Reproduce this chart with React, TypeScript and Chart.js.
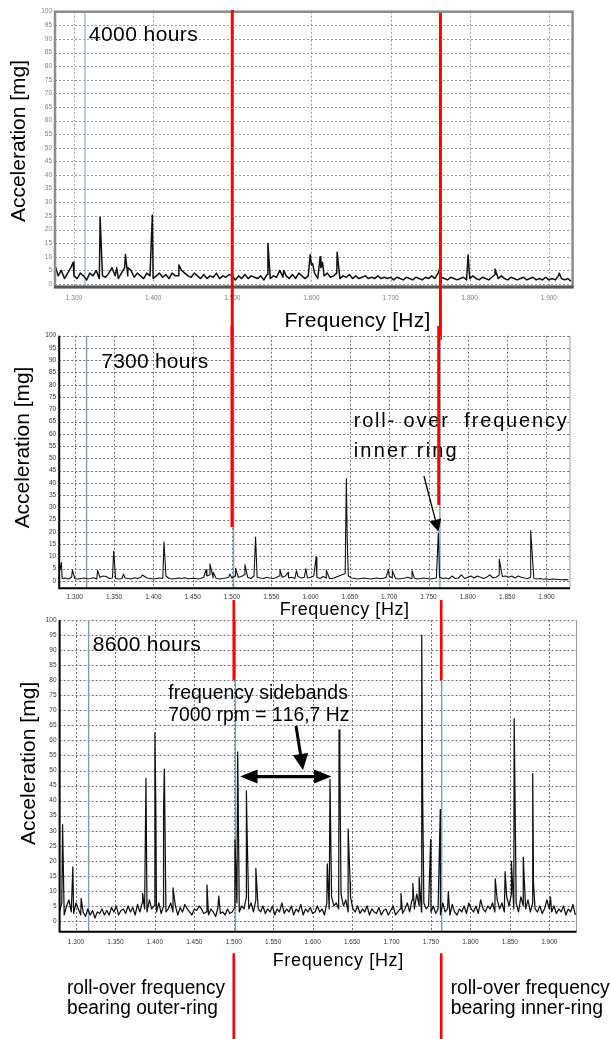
import React, { useEffect, useRef } from 'react';
import { Chart, registerables } from 'chart.js';

Chart.register(...registerables);

const FONT = '"Liberation Sans", Arial, Helvetica, sans-serif';

// ---------- DATA ----------
// Panel 1: 4000 hours (noise floor sampled every 4 Hz from 1276 Hz)
const noise1Start = 1276;
const noise1Step = 4;
const noise1 = [
  7, 3, 5, 2, 4, 6,
  3, 2, 4, 3, 1.5, 4, 3, 5,
  2, 3, 2.5, 4, 6, 3, 2, 4,
  6, 3, 5, 2.5, 4, 3, 2, 4, 3,
  2, 3, 4, 2.5, 3.5, 2, 4, 3,
  3, 5, 4, 3, 2.5, 4, 3, 2,
  3.5, 2, 3, 2.5, 4, 2, 3, 2.5, 3.5,
  3, 1.5, 3, 2, 3.5, 2, 3, 2.5,
  2, 3, 1.5, 3.5, 2, 3, 2.5, 5,
  2.5, 3, 2, 3.5, 2, 4, 3, 2,
  3, 7, 4, 2, 6, 3, 4, 2.5,
  3, 4, 2, 3, 2.5, 3.5, 2, 3,
  2, 2.5, 3, 2, 2.5, 2, 3, 2,
  2.5, 2, 2.5, 1.5, 2.5, 2, 1.5, 2.5,
  2, 1.5, 2.5, 2, 1.5, 2.5, 2, 3,
  2, 4, 2.5, 2, 1.5, 2.5, 2, 1.5,
  2, 2.5, 1.5, 2, 3, 2, 1.5, 2.5,
  2, 1.5, 2.5, 3.5, 2, 3, 2, 1.5,
  2.5, 2, 1.5, 2, 2.5, 1.5, 2, 2.5,
  1.5, 2, 1.5, 2.5, 1.5, 2, 1.5, 3,
  2, 1.5, 2, 1,
];
const peaks1: [number, number][] = [
  [1299, 8], [1333, 24.5], [1354, 6], [1365, 10.8], [1368, 6], [1399, 25.3],
  [1432.5, 7], [1545, 15], [1565, 5], [1598.5, 10.8], [1601.5, 7.5], [1611, 10],
  [1614, 8], [1632.5, 11.7], [1762, 5.5], [1798, 10.7], [1832, 5.5], [1913, 4],
];

// Panel 2: 7300 hours (noise floor every 4 Hz from 1280 Hz)
const noise2Start = 1280;
const noise2Step = 4;
const noise2 = [
  3, 1, 1.2, 0.8, 1.5,
  1, 0.8, 1, 1.2, 0.9, 1, 1.3, 0.8,
  1.5, 2, 1.8, 1, 1.2, 1, 0.8, 1,
  1.2, 1, 0.8, 1.3, 1, 1.5, 2, 1.2, 1,
  0.8, 1, 1.2, 1, 2, 1, 0.8, 1,
  1.2, 1, 1.3, 0.9, 1, 1.1, 0.8, 1,
  1.5, 2, 2.5, 1.2, 1, 0.8, 1, 1.2, 1.5,
  1.2, 2, 1.5, 1.8, 2.5, 1.5, 1, 2,
  1.5, 1.2, 1, 1.5, 1.2, 1, 1.3, 2,
  1.5, 2, 1.2, 1.5, 1, 1.8, 1.2, 1.5,
  1.2, 1.5, 2, 1.5, 1, 1.8, 1.2, 1,
  1, 1.5, 2, 2.5, 3, 2, 1.2, 1,
  0.8, 1, 1.2, 1, 0.8, 1, 1.2, 1,
  1, 1.5, 2, 1.2, 1, 0.8, 1, 1.2,
  1.5, 1, 1.2, 0.8, 1, 1.2, 1, 0.8,
  1, 1.2, 1.5, 1, 1.2, 0.8, 2, 1,
  1.2, 2.5, 1, 1.5, 2, 1.2, 2, 1.5,
  1, 1.5, 2.5, 1.2, 1.5, 2.5, 1.8, 2,
  1.5, 2, 1.2, 2, 1.5, 1.2, 1, 1.5,
  1, 0.8, 1, 0.7, 0.9, 0.6, 0.8, 0.7,
  0.6, 0.5, 0.6, 0.5,
];
const peaks2: [number, number][] = [
  [1283, 7.5], [1297, 4.5], [1329, 4.3], [1349.5, 12.2], [1362, 2.8], [1386, 2.4],
  [1413.5, 15.9], [1467, 4.5], [1472, 7], [1476, 3.5], [1497, 2.8], [1504.5, 5.2],
  [1516.5, 6.7], [1530, 17.9], [1561, 4.6], [1571.5, 3.5], [1582, 4.2], [1594, 5],
  [1607, 9.6], [1620, 4.4], [1645.5, 41.8], [1646.5, 18], [1699, 4.5], [1704, 4.2],
  [1729, 4.2], [1762.5, 19.5], [1840, 8.8], [1880, 20.5],
];

// Panel 3: 8600 hours (noise floor every 3 Hz from 1279 Hz)
const noise3Start = 1279;
const noise3Step = 3;
const noise3 = [
  3, 6, 2, 5, 7, 3, 2.5, 6, 4, 2,
  3, 1.5, 4, 2, 3.5, 1, 3, 2.5, 4, 2,
  3.5, 2, 4.5, 3, 5, 2, 3.5, 4, 2.5, 5,
  3, 4.5, 2, 5.5, 3, 6, 4, 3, 7, 4,
  5, 3, 6, 2.5, 5, 3, 4, 6, 3, 5,
  2, 4.5, 3, 5.5, 4, 3, 2, 4, 3.5, 5,
  4, 2.5, 3, 2, 4, 3, 1.5, 4.5, 2.5, 3,
  2, 4, 2.5, 3, 4.5, 6, 3, 5, 4, 8,
  4, 6, 3, 7, 4, 3, 5, 2.5, 4, 3,
  5, 2, 4, 3, 6, 2.5, 4, 3, 5, 2,
  4, 3, 5.5, 2, 4, 3, 4.5, 2.5, 3, 5,
  3, 4, 2, 6, 4, 8, 5, 6, 4, 9,
  5, 7, 3, 8, 4, 3, 5, 2.5, 4, 3,
  5, 2, 4, 3, 2.5, 4.5, 2, 3.5, 4, 2,
  3.5, 5, 2, 3, 4, 2.5, 4, 6, 3, 7,
  4, 9, 5, 3, 6, 4, 5, 3, 5, 2.5,
  4, 2, 6, 3, 4, 2, 5.5, 3, 2, 4,
  3, 5, 2.5, 6, 4, 3, 5, 2.5, 7, 4,
  3, 5, 4, 6, 3, 7, 4, 6, 3, 8,
  5, 9, 4, 6, 3, 8, 5, 4, 7, 3,
  6, 4, 3, 5, 2.5, 4, 7, 4, 3, 5,
  2.5, 4, 3, 5, 2, 4, 3, 5.5, 2,
];
const peaks3: [number, number][] = [
  [1283, 32], [1296, 18], [1306.5, 7.5], [1384.5, 9.2], [1388.7, 47.4], [1400, 62.5],
  [1401.2, 38], [1411, 37], [1412, 50.5], [1423, 11], [1466, 12], [1481, 8.3],
  [1501.5, 27], [1505, 56.2], [1516, 43.2], [1517, 28], [1528, 17.5], [1618.5, 19],
  [1622, 47], [1633.5, 63.5], [1634.5, 52], [1645, 30.5], [1647.5, 13], [1712, 9.2],
  [1727, 12.5], [1735, 14.6], [1738.3, 95], [1739.5, 41], [1749.6, 27], [1761.8, 37],
  [1772, 9.7], [1831.5, 14], [1844, 16.4], [1852, 19.8], [1855.5, 67.2], [1867, 21.2],
  [1879, 49], [1880, 12.5], [1901.5, 8],
];

const xTicksCoarse = [1300, 1400, 1500, 1600, 1700, 1800, 1900];
const xTicksFine = [1300, 1350, 1400, 1450, 1500, 1550, 1600, 1650, 1700, 1750, 1800, 1850, 1900];
const yTicks = [0, 5, 10, 15, 20, 25, 30, 35, 40, 45, 50, 55, 60, 65, 70, 75, 80, 85, 90, 95, 100];

const blueLines1 = [1314];
const blueLines2 = [1315, 1502, 1764.5];
const blueLines3 = [1316, 1502, 1763.6];
const rollOverOuter = 1500;
const rollOverInner = 1763;

// ---------- HELPERS ----------
type Pt = { x: number; y: number };
function buildSeries(start: number, step: number, noise: number[], peaks: [number, number][]): Pt[] {
  const pts: Pt[] = noise.map((v, i) => ({ x: start + i * step, y: v }));
  peaks.forEach(([x, y]) => pts.push({ x, y }));
  pts.sort((a, b) => a.x - b.x);
  return pts;
}
function fmtThousands(v: number): string {
  const s = String(Math.round(v));
  return s.length > 3 ? s.slice(0, -3) + '.' + s.slice(-3) : s;
}

interface TextSpec { t: string; x: number; y: number; size: number; w: number }
interface RotSpec { t: string; cx: number; cy: number; size: number; w: number }
interface RedSeg { f: number; y1: number; y2?: number; v2?: number }
interface ArrowSpec { from: [number, number]; to: [number, number]; lw: number; hl: number; hw: number; both?: boolean }
interface PanelSpec {
  top: number; height: number;
  area: { left: number; right: number; top: number; bottom: number };
  xMin: number; xMax: number; yMin: number;
  xTicks: number[];
  series: Pt[];
  lineWidth: number;
  blue: number[]; blueColor: string;
  red: RedSeg[]; redWidth: number;
  texts: TextSpec[]; rot: RotSpec;
  arrows: ArrowSpec[];
  frame: 'box' | 'axes';
  tickColor: string; gridColor: string; gridDash: number[]; tickPadX: number;
}

function drawFitted(ctx: CanvasRenderingContext2D, text: string, x: number, y: number, size: number, targetW: number) {
  ctx.font = `${size}px ${FONT}`;
  const chars = Array.from(text);
  const widths = chars.map((c) => ctx.measureText(c).width);
  const w = widths.reduce((a, b) => a + b, 0);
  if (targetW >= w) {
    const extra = chars.length > 1 ? (targetW - w) / (chars.length - 1) : 0;
    let cx = x;
    chars.forEach((c, i) => { ctx.fillText(c, cx, y); cx += widths[i] + extra; });
  } else {
    ctx.save();
    ctx.translate(x, y);
    ctx.scale(targetW / w, 1);
    let cx = 0;
    chars.forEach((c, i) => { ctx.fillText(c, cx, 0); cx += widths[i]; });
    ctx.restore();
  }
}

function arrowHead(ctx: CanvasRenderingContext2D, tx: number, ty: number, ux: number, uy: number, hl: number, hw: number) {
  const bx = tx - ux * hl, by = ty - uy * hl;
  ctx.beginPath();
  ctx.moveTo(tx, ty);
  ctx.lineTo(bx - uy * hw / 2, by + ux * hw / 2);
  ctx.lineTo(bx + uy * hw / 2, by - ux * hw / 2);
  ctx.closePath();
  ctx.fill();
}

function overlay(p: PanelSpec) {
  return {
    id: 'overlay',
    beforeDatasetsDraw(chart: any) {
      const { ctx, chartArea: a, scales } = chart;
      ctx.save();
      // dotted grid
      ctx.strokeStyle = p.gridColor;
      ctx.lineWidth = 1;
      ctx.setLineDash(p.gridDash);
      p.xTicks.forEach((f) => {
        const x = Math.round(scales.x.getPixelForValue(f)) + 0.5;
        ctx.beginPath(); ctx.moveTo(x, a.top); ctx.lineTo(x, a.bottom); ctx.stroke();
      });
      yTicks.forEach((v) => {
        const y = Math.round(scales.y.getPixelForValue(v)) + 0.5;
        ctx.beginPath(); ctx.moveTo(a.left, y); ctx.lineTo(a.right, y); ctx.stroke();
      });
      ctx.setLineDash([]);
      // blue reference lines
      ctx.strokeStyle = p.blueColor;
      ctx.lineWidth = 1.4;
      p.blue.forEach((f) => {
        const x = scales.x.getPixelForValue(f);
        ctx.beginPath(); ctx.moveTo(x, a.top); ctx.lineTo(x, a.bottom); ctx.stroke();
      });
      ctx.restore();
    },
    afterDatasetsDraw(chart: any) {
      const { ctx, chartArea: a, scales } = chart;
      const xs = scales.x, ys = scales.y;
      ctx.save();
      // frame
      if (p.frame === 'box') {
        ctx.strokeStyle = '#8c8c8c'; ctx.lineWidth = 2.5;
        ctx.strokeRect(a.left, a.top, a.right - a.left, a.bottom - a.top);
        ctx.strokeStyle = '#555'; ctx.lineWidth = 3;
        ctx.beginPath(); ctx.moveTo(a.left - 1, a.bottom); ctx.lineTo(a.right + 1, a.bottom); ctx.stroke();
      } else {
        ctx.strokeStyle = '#9a9a9a'; ctx.lineWidth = 1;
        ctx.beginPath(); ctx.moveTo(a.right, a.top); ctx.lineTo(a.right, a.bottom); ctx.stroke();
        ctx.strokeStyle = '#000'; ctx.lineWidth = 2;
        ctx.beginPath(); ctx.moveTo(a.left, a.top); ctx.lineTo(a.left, a.bottom); ctx.lineTo(a.right, a.bottom); ctx.stroke();
      }
      // texts
      ctx.fillStyle = '#000';
      ctx.textBaseline = 'alphabetic';
      ctx.textAlign = 'left';
      p.texts.forEach((t) => drawFitted(ctx, t.t, t.x, t.y - p.top, t.size, t.w));
      ctx.save();
      ctx.translate(p.rot.cx, p.rot.cy - p.top);
      ctx.rotate(-Math.PI / 2);
      ctx.textBaseline = 'middle';
      drawFitted(ctx, p.rot.t, -p.rot.w / 2, 0, p.rot.size, p.rot.w);
      ctx.restore();
      // arrows
      ctx.strokeStyle = '#000'; ctx.fillStyle = '#000';
      p.arrows.forEach((ar) => {
        const x1 = xs.getPixelForValue(ar.from[0]), y1 = ys.getPixelForValue(ar.from[1]);
        const x2 = xs.getPixelForValue(ar.to[0]), y2 = ys.getPixelForValue(ar.to[1]);
        const len = Math.hypot(x2 - x1, y2 - y1);
        const ux = (x2 - x1) / len, uy = (y2 - y1) / len;
        const sx = ar.both ? x1 + ux * ar.hl * 0.9 : x1, sy = ar.both ? y1 + uy * ar.hl * 0.9 : y1;
        ctx.lineWidth = ar.lw; ctx.lineCap = 'butt';
        ctx.beginPath(); ctx.moveTo(sx, sy); ctx.lineTo(x2 - ux * ar.hl * 0.9, y2 - uy * ar.hl * 0.9); ctx.stroke();
        arrowHead(ctx, x2, y2, ux, uy, ar.hl, ar.hw);
        if (ar.both) arrowHead(ctx, x1, y1, -ux, -uy, ar.hl, ar.hw);
      });
      // red roll-over lines
      ctx.strokeStyle = '#ff0000'; ctx.lineWidth = p.redWidth; ctx.lineCap = 'butt';
      p.red.forEach((r) => {
        const x = xs.getPixelForValue(r.f);
        const yA = r.y1 - p.top;
        const yB = r.v2 !== undefined ? ys.getPixelForValue(r.v2) : (r.y2 as number) - p.top;
        ctx.beginPath(); ctx.moveTo(x, yA); ctx.lineTo(x, yB); ctx.stroke();
      });
      ctx.restore();
    },
  };
}

function buildConfig(p: PanelSpec): any {
  const yAxisW = 25, xAxisH = 20;
  const aTop = p.area.top - p.top, aBottom = p.area.bottom - p.top;
  const tickFont = { family: FONT, size: 6.5 };
  return {
    type: 'line',
    data: {
      datasets: [{
        data: p.series, borderColor: '#111', borderWidth: p.lineWidth, pointRadius: 0,
        tension: 0, fill: false, borderJoinStyle: 'round',
      }],
    },
    options: {
      animation: false, responsive: false, devicePixelRatio: 1, events: [],
      layout: { padding: { left: p.area.left - yAxisW, right: 610 - p.area.right, top: aTop, bottom: p.height - aBottom - xAxisH } },
      plugins: { legend: { display: false }, tooltip: { enabled: false } },
      scales: {
        x: {
          type: 'linear', min: p.xMin, max: p.xMax,
          afterBuildTicks: (s: any) => { s.ticks = p.xTicks.map((v) => ({ value: v })); },
          afterFit: (s: any) => { s.height = xAxisH; },
          grid: { display: false, drawTicks: false },
          border: { display: false },
          ticks: { color: p.tickColor, font: tickFont, padding: p.tickPadX, maxRotation: 0, autoSkip: false, callback: (v: any) => fmtThousands(Number(v)) },
        },
        y: {
          type: 'linear', min: p.yMin, max: 100,
          afterBuildTicks: (s: any) => { s.ticks = yTicks.map((v) => ({ value: v })); },
          afterFit: (s: any) => { s.width = yAxisW; },
          grid: { display: false, drawTicks: false },
          border: { display: false },
          ticks: { color: p.tickColor, font: tickFont, padding: 3, autoSkip: false },
        },
      },
    },
    plugins: [overlay(p)],
  };
}

// ---------- PANELS ----------
const panels: PanelSpec[] = [
  {
    top: 0, height: 340,
    area: { left: 55, right: 572.6, top: 11.7, bottom: 287 },
    xMin: 1276, xMax: 1930, yMin: -1.1, xTicks: xTicksCoarse,
    series: buildSeries(noise1Start, noise1Step, noise1, peaks1), lineWidth: 1.5,
    blue: blueLines1, blueColor: '#9dbad0',
    red: [{ f: rollOverOuter, y1: 10, y2: 340 }, { f: rollOverInner, y1: 12.7, y2: 340 }], redWidth: 3,
    texts: [
      { t: '4000 hours', x: 88.8, y: 40.7, size: 21, w: 109 },
      { t: 'Frequency [Hz]', x: 284.4, y: 327, size: 21, w: 146 },
    ],
    rot: { t: 'Acceleration [mg]', cx: 19.5, cy: 141, size: 21, w: 162 },
    arrows: [], frame: 'box', tickColor: '#808080', gridColor: '#9a9a9a', gridDash: [2, 2], tickPadX: 7,
  },
  {
    top: 326, height: 294,
    area: { left: 59.2, right: 570, top: 335.7, bottom: 588.3 },
    xMin: 1280.2, xMax: 1930, yMin: -3, xTicks: xTicksFine,
    series: buildSeries(noise2Start, noise2Step, noise2, peaks2), lineWidth: 1.1,
    blue: blueLines2, blueColor: '#7f9cb2',
    red: [{ f: rollOverOuter, y1: 326, v2: 22 }, { f: rollOverInner, y1: 326, v2: 31 }], redWidth: 3,
    texts: [
      { t: '7300 hours', x: 101.3, y: 368.3, size: 21, w: 107 },
      { t: 'roll- over  frequency', x: 353.7, y: 427.3, size: 20, w: 213 },
      { t: 'inner ring', x: 353.7, y: 457.3, size: 20, w: 103 },
      { t: 'Frequency [Hz]', x: 279.7, y: 614.6, size: 18, w: 129.3 },
    ],
    rot: { t: 'Acceleration [mg]', cx: 23.4, cy: 447.5, size: 21, w: 161.7 },
    arrows: [{ from: [1744.2, 42.8], to: [1762.6, 20.1], lw: 1.3, hl: 12, hw: 12 }],
    frame: 'axes', tickColor: '#333', gridColor: '#6e6e6e', gridDash: [2, 2], tickPadX: 5,
  },
  {
    top: 590, height: 449,
    area: { left: 59.6, right: 576.5, top: 620, bottom: 931.7 },
    xMin: 1279.2, xMax: 1934.5, yMin: -3.55, xTicks: xTicksFine,
    series: buildSeries(noise3Start, noise3Step, noise3, peaks3), lineWidth: 1.25,
    blue: blueLines3, blueColor: '#7f9cb2',
    red: [
      { f: rollOverOuter, y1: 600, v2: 80 }, { f: rollOverInner, y1: 600, v2: 80 },
      { f: rollOverOuter, y1: 953.3, y2: 1039 }, { f: rollOverInner, y1: 953.3, y2: 1039 },
    ], redWidth: 2.6,
    texts: [
      { t: '8600 hours', x: 92.7, y: 650.7, size: 21, w: 108 },
      { t: 'frequency sidebands', x: 168.3, y: 699.3, size: 20, w: 179.6 },
      { t: '7000 rpm = 116,7 Hz', x: 168.3, y: 720.7, size: 20, w: 181 },
      { t: 'Frequency [Hz]', x: 272.7, y: 966.2, size: 18, w: 130.5 },
      { t: 'roll-over frequency', x: 67, y: 994.3, size: 20, w: 158 },
      { t: 'bearing outer-ring', x: 67, y: 1014.3, size: 20, w: 151 },
      { t: 'roll-over frequency', x: 450.7, y: 994.3, size: 20, w: 159 },
      { t: 'bearing inner-ring', x: 450.7, y: 1014.3, size: 20, w: 152.3 },
    ],
    rot: { t: 'Acceleration [mg]', cx: 29.2, cy: 763.3, size: 21, w: 163.3 },
    arrows: [
      { from: [1578.9, 64.8], to: [1587.8, 50.2], lw: 3, hl: 16, hw: 15.5 },
      { from: [1508, 48], to: [1624, 48], lw: 3.3, hl: 17.5, hw: 14, both: true },
    ],
    frame: 'axes', tickColor: '#333', gridColor: '#6e6e6e', gridDash: [2, 2], tickPadX: 6.7,
  },
];

function PanelChart({ spec }: { spec: PanelSpec }) {
  const ref = useRef<HTMLCanvasElement>(null);
  useEffect(() => {
    if (!ref.current) return;
    const chart = new Chart(ref.current, buildConfig(spec));
    return () => chart.destroy();
  }, [spec]);
  return (
    <canvas
      ref={ref}
      width={610}
      height={spec.height}
      style={{ position: 'absolute', left: 0, top: spec.top, width: 610, height: spec.height }}
    />
  );
}

export default function App() {
  return (
    <div style={{ position: 'absolute', left: 0, top: 0, width: 610, height: 1039, background: '#fff', overflow: 'hidden' }}>
      {panels.map((p, i) => (
        <PanelChart key={i} spec={p} />
      ))}
    </div>
  );
}
